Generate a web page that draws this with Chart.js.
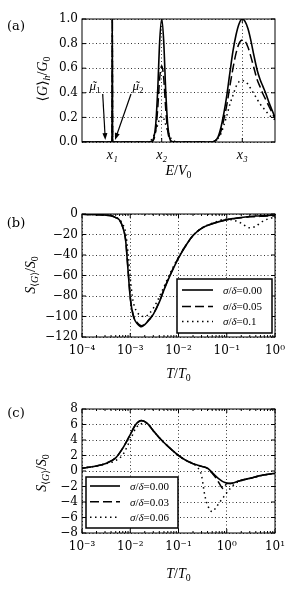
<!DOCTYPE html>
<html>
<head>
<meta charset="utf-8">
<script src="https://cdn.jsdelivr.net/npm/chart.js@4.4.0/dist/chart.umd.min.js"></script>
<style>
  body { margin: 0; background: #fff; }
  canvas { display: block; }
</style>
</head>
<body>
<canvas id="chartA" width="300" height="190"></canvas>
<canvas id="chartB" width="300" height="200"></canvas>
<canvas id="chartC" width="300" height="210"></canvas>
<script>
// ---- (a) averaged conductance vs energy ----
const eA = [0.00, 0.29, 0.300, 0.303, 0.306, 0.32, 0.64,
  0.657, 0.697, 0.717, 0.737, 0.757, 0.777, 0.797, 0.817, 0.837, 0.857, 0.877, 0.897, 0.937,
  1.00, 1.27,
  1.30, 1.33, 1.36, 1.39, 1.42, 1.45, 1.48, 1.51, 1.54, 1.57, 1.603, 1.63, 1.66, 1.69, 1.72,
  1.75, 1.78, 1.81, 1.84, 1.87, 1.90, 1.93];
const gA0 = [0, 0, 0, 1.0, 0, 0, 0,
  0, 0.004, 0.03, 0.14, 0.42, 0.82, 1.0, 0.82, 0.42, 0.14, 0.03, 0.004, 0,
  0, 0,
  0, 0.01, 0.04, 0.12, 0.24, 0.39, 0.57, 0.74, 0.87, 0.96, 1.0, 0.98, 0.92, 0.82, 0.70,
  0.59, 0.51, 0.45, 0.39, 0.32, 0.26, 0.20];
const gA1 = [0, 0, 0, 1.0, 0, 0, 0,
  0, 0.003, 0.02, 0.09, 0.27, 0.52, 0.62, 0.52, 0.27, 0.09, 0.02, 0.003, 0,
  0, 0,
  0, 0.01, 0.03, 0.09, 0.19, 0.31, 0.46, 0.60, 0.72, 0.80, 0.83, 0.82, 0.77, 0.69, 0.60,
  0.51, 0.45, 0.39, 0.34, 0.29, 0.24, 0.19];
const gA2 = [0, 0, 0, 0.9, 0, 0, 0,
  0.004, 0.02, 0.05, 0.09, 0.14, 0.19, 0.21, 0.19, 0.14, 0.09, 0.05, 0.02, 0.004,
  0, 0,
  0, 0.01, 0.03, 0.07, 0.14, 0.22, 0.31, 0.38, 0.45, 0.49, 0.50, 0.49, 0.47, 0.43, 0.39,
  0.35, 0.31, 0.28, 0.25, 0.22, 0.20, 0.18];
const xTicksA = [0.303, 0.797, 1.603];
const xLabelsA = ['x₁', 'x₂', 'x₃'];

// ---- (b) thermopower, first set ----
const tB = [1e-4, 2e-4, 3e-4, 4e-4, 5e-4, 6e-4, 7e-4, 8e-4, 9e-4, 1e-3, 1.1e-3, 1.2e-3,
  1.4e-3, 1.7e-3, 2e-3, 2.5e-3, 3e-3, 4e-3, 5e-3, 7e-3, 1e-2, 1.5e-2, 2e-2, 3e-2, 5e-2,
  0.1, 0.15, 0.2, 0.3, 0.4, 0.5, 0.7, 1.0];
const sB0 = [-0.3, -0.6, -1.0, -1.8, -3.5, -6, -13, -25, -55, -82, -95, -102,
  -107, -110, -108, -103, -98, -86, -74, -58, -43, -29, -21, -14, -9.5,
  -5.5, -4.2, -3.4, -2.5, -2.0, -1.7, -1.4, -1.2];
const sB1 = [-0.3, -0.6, -1.0, -1.8, -3.5, -6, -13, -25, -54, -81, -94, -101,
  -106, -109, -107.5, -102.5, -97.5, -85.5, -73.5, -57.5, -42.5, -29, -21, -14, -9.5,
  -5.6, -4.4, -3.6, -2.8, -2.5, -2.3, -2.0, -1.8];
const sB2 = [-0.3, -0.6, -1.0, -1.8, -3.2, -5.5, -10, -18, -38, -62, -80, -89,
  -96, -99.5, -100, -97, -92, -81, -71, -56, -42, -29, -21, -14, -9,
  -5, -6.5, -9, -13.5, -12, -8.5, -5, -3];
const legendB = ['0.00', '0.05', '0.1'];
const xTicksB = [1e-4, 1e-3, 1e-2, 1e-1, 1];
const xLabelsB = ['10⁻⁴', '10⁻³', '10⁻²', '10⁻¹', '10⁰'];

// ---- (c) thermopower, second set ----
const tC = [1e-3, 2e-3, 3e-3, 5e-3, 7e-3, 1e-2, 1.3e-2, 1.7e-2, 2.2e-2, 3e-2, 4e-2, 6e-2,
  0.1, 0.15, 0.2, 0.25, 0.3, 0.35, 0.4, 0.5, 0.6, 0.7, 0.85, 1.0, 1.2, 1.5, 2, 3, 5, 10];
const sC0 = [0.35, 0.65, 0.95, 1.7, 2.95, 4.7, 6.0, 6.5, 6.2, 5.2, 4.3, 3.2,
  2.0, 1.3, 0.95, 0.75, 0.6, 0.5, 0.35, -0.2, -0.7, -1.05, -1.4, -1.55, -1.6, -1.45,
  -1.2, -0.95, -0.6, -0.3];
const sC1 = [0.35, 0.65, 0.95, 1.7, 2.95, 4.7, 6.0, 6.5, 6.2, 5.2, 4.3, 3.2,
  2.0, 1.3, 0.95, 0.75, 0.6, 0.5, 0.3, -0.3, -0.9, -1.6, -2.3, -1.6, -1.6, -1.45,
  -1.2, -0.95, -0.6, -0.3];
const sC2 = [0.35, 0.65, 0.9, 1.35, 2.1, 4.0, 5.5, 6.1, 6.15, 5.2, 4.3, 3.2,
  2.0, 1.3, 0.95, 0.45, -0.6, -3.1, -4.4, -5.25, -4.7, -4.1, -3.4, -2.8, -2.2, -1.6,
  -1.25, -0.95, -0.6, -0.3];
const legendC = ['0.00', '0.03', '0.06'];
const xTicksC = [1e-3, 1e-2, 1e-1, 1, 10];
const xLabelsC = ['10⁻³', '10⁻²', '10⁻¹', '10⁰', '10¹'];

const DASHES = [[], [9, 4], [1.5, 3.5]];
const tickFont = { family: "'DejaVu Serif', serif", size: 12 };
const MATH_FAMILY = "'Liberation Serif', 'DejaVu Serif', serif";

// runs: [text, style]  style: 'r' roman, 'i' italic, 'ti' italic with tilde, 'sr'/'si' subscript
function runFont(style, size) {
  const sub = style[0] === 's';
  const it = style[style.length - 1] === 'i';
  return (it ? 'italic ' : '') + (sub ? size * 0.7 : size) + 'px ' + MATH_FAMILY;
}

function drawRich(ctx, runs, cx, cy, size, rot, align) {
  ctx.save();
  ctx.translate(cx, cy);
  if (rot) ctx.rotate(rot);
  ctx.fillStyle = '#000';
  ctx.textBaseline = 'alphabetic';
  ctx.textAlign = 'left';
  let w = 0;
  runs.forEach(([t, s]) => { ctx.font = runFont(s, size); w += ctx.measureText(t).width; });
  let x = align === 'left' ? 0 : -w / 2;
  const base = size * 0.35;
  runs.forEach(([t, s]) => {
    ctx.font = runFont(s, size);
    const tw = ctx.measureText(t).width;
    ctx.fillText(t, x, base + (s[0] === 's' ? size * 0.25 : 0));
    if (s === 'ti') {
      // tilde accent over the glyph
      ctx.textAlign = 'center';
      ctx.fillText('˜', x + tw / 2 + 1.5, base);
      ctx.textAlign = 'left';
    }
    x += tw;
  });
  ctx.restore();
}

// frame, inward ticks, titles, legend box and arrows
const decor = {
  id: 'decor',
  afterDraw(chart, args, o) {
    const { ctx, chartArea: a } = chart;
    const xs = chart.scales.x, ys = chart.scales.y;
    ctx.save();
    ctx.strokeStyle = '#000';
    ctx.lineWidth = 1;
    ctx.setLineDash([]);
    ctx.beginPath();
    ys.ticks.forEach(t => {
      const py = ys.getPixelForValue(t.value);
      ctx.moveTo(a.left, py); ctx.lineTo(a.left + 4, py);
      ctx.moveTo(a.right, py); ctx.lineTo(a.right - 4, py);
    });
    xs.ticks.forEach(t => {
      const px = xs.getPixelForValue(t.value);
      ctx.moveTo(px, a.bottom); ctx.lineTo(px, a.bottom - 4);
      ctx.moveTo(px, a.top); ctx.lineTo(px, a.top + 4);
    });
    if (xs.type === 'logarithmic') {
      for (let d = Math.log10(xs.min); d < Math.log10(xs.max); d++) {
        for (let k = 2; k <= 9; k++) {
          const px = xs.getPixelForValue(k * Math.pow(10, d));
          ctx.moveTo(px, a.bottom); ctx.lineTo(px, a.bottom - 2);
          ctx.moveTo(px, a.top); ctx.lineTo(px, a.top + 2);
        }
      }
    }
    ctx.stroke();
    ctx.strokeRect(a.left, a.top, a.right - a.left, a.bottom - a.top);

    // panel label
    ctx.fillStyle = '#000';
    ctx.font = "13px 'DejaVu Serif', serif";
    ctx.textAlign = 'center';
    ctx.textBaseline = 'middle';
    ctx.fillText(o.label, o.labelPos[0], o.labelPos[1]);

    drawRich(ctx, o.xTitle, (a.left + a.right) / 2, o.xTitleY, 14, 0);
    drawRich(ctx, o.yTitle, o.yTitleX, o.yTitleY, 14, -Math.PI / 2);

    if (o.legend) {
      const L = o.legend;
      ctx.fillStyle = '#fff';
      ctx.fillRect(L.x, L.y, L.w, L.h);
      ctx.lineWidth = 1.5;
      ctx.strokeRect(L.x, L.y, L.w, L.h);
      chart.data.datasets.forEach((ds, i) => {
        const ry = L.y + L.rows[i];
        ctx.lineWidth = ds.borderWidth;
        ctx.setLineDash(ds.borderDash);
        ctx.beginPath();
        ctx.moveTo(L.lineX[0], ry); ctx.lineTo(L.lineX[1], ry);
        ctx.stroke();
        ctx.setLineDash([]);
        drawRich(ctx, [['σ', 'i'], ['/', 'r'], ['δ', 'i'], ['=' + L.values[i], 'r']], L.textX, ry, 11, 0, 'left');
      });
    }

    (o.arrows || []).forEach(ar => {
      const x0 = xs.getPixelForValue(ar.from[0]), y0 = ys.getPixelForValue(ar.from[1]);
      const x1 = xs.getPixelForValue(ar.to[0]), y1 = ys.getPixelForValue(ar.to[1]);
      const ang = Math.atan2(y1 - y0, x1 - x0);
      ctx.lineWidth = 1.2;
      ctx.beginPath();
      ctx.moveTo(x0, y0);
      ctx.lineTo(x1 - 5 * Math.cos(ang), y1 - 5 * Math.sin(ang));
      ctx.stroke();
      ctx.fillStyle = '#000';
      ctx.beginPath();
      ctx.moveTo(x1, y1);
      ctx.lineTo(x1 - 7 * Math.cos(ang) + 2.5 * Math.sin(ang), y1 - 7 * Math.sin(ang) - 2.5 * Math.cos(ang));
      ctx.lineTo(x1 - 7 * Math.cos(ang) - 2.5 * Math.sin(ang), y1 - 7 * Math.sin(ang) + 2.5 * Math.cos(ang));
      ctx.closePath();
      ctx.fill();
      drawRich(ctx, ar.text, xs.getPixelForValue(ar.textAt[0]), ys.getPixelForValue(ar.textAt[1]), 13, 0);
    });
    ctx.restore();
  }
};

function series(xv, yv, i, label) {
  return {
    label: label,
    data: xv.map((x, k) => ({ x: x, y: yv[k] })),
    borderColor: '#000',
    borderWidth: i === 0 ? 1.6 : 1.5,
    borderDash: DASHES[i],
    pointRadius: 0,
    fill: false,
    cubicInterpolationMode: 'monotone'
  };
}

function makeChart(id, cfg) {
  return new Chart(document.getElementById(id), {
    type: 'line',
    data: { datasets: cfg.datasets },
    plugins: [decor],
    options: {
      responsive: false,
      animation: false,
      layout: { padding: { top: cfg.top, right: 25, left: 0, bottom: 0 } },
      plugins: { legend: { display: false }, tooltip: { enabled: false }, decor: cfg.decor },
      scales: {
        x: {
          type: cfg.xType, min: cfg.xMin, max: cfg.xMax,
          afterBuildTicks: s => { s.ticks = cfg.xTicks.map(v => ({ value: v })); },
          afterFit: s => { s.height = cfg.xHeight; },
          grid: { color: '#000', lineWidth: 0.8, drawTicks: false },
          border: { display: false, dash: [1, 2.5] },
          ticks: {
            font: cfg.xFont || tickFont, color: '#000', padding: cfg.xPad,
            maxRotation: 0, autoSkip: false,
            callback: (v, i) => cfg.xLabels[i]
          }
        },
        y: {
          min: cfg.yMin, max: cfg.yMax,
          afterFit: s => { s.width = 82; },
          grid: { color: '#000', lineWidth: 0.8, drawTicks: false },
          border: { display: false, dash: [1, 2.5] },
          ticks: {
            stepSize: cfg.yStep, font: tickFont, color: '#000', padding: 4,
            autoSkip: false, callback: cfg.yFormat
          }
        }
      }
    }
  });
}

const minusFmt = v => (v < 0 ? '−' + Math.abs(v) : String(v));

makeChart('chartA', {
  datasets: [series(eA, gA0, 0), series(eA, gA1, 1), series(eA, gA2, 2)],
  top: 19, xHeight: 48, xType: 'linear', xMin: 0, xMax: 1.93,
  xTicks: xTicksA, xLabels: xLabelsA, xPad: 5,
  xFont: { family: MATH_FAMILY, size: 14, style: 'italic' },
  yMin: 0, yMax: 1, yStep: 0.2, yFormat: v => v.toFixed(1),
  decor: {
    label: '(a)', labelPos: [16, 27],
    xTitle: [['E', 'i'], ['/', 'r'], ['V', 'i'], ['0', 'sr']], xTitleY: 170,
    yTitle: [['⟨', 'r'], ['G', 'i'], ['⟩', 'r'], ['h', 'si'], ['/', 'r'], ['G', 'i'], ['0', 'sr']],
    yTitleX: 42, yTitleY: 79,
    arrows: [
      { from: [0.207, 0.39], to: [0.233, 0.016], textAt: [0.13, 0.46], text: [['μ', 'ti'], ['1', 'sr']] },
      { from: [0.49, 0.39], to: [0.33, 0.016], textAt: [0.56, 0.46], text: [['μ', 'ti'], ['2', 'sr']] }
    ]
  }
});

makeChart('chartB', {
  datasets: [series(tB, sB0, 0), series(tB, sB1, 1), series(tB, sB2, 2)],
  top: 24, xHeight: 53, xType: 'logarithmic', xMin: 1e-4, xMax: 1,
  xTicks: xTicksB, xLabels: xLabelsB, xPad: 7,
  yMin: -120, yMax: 0, yStep: 20, yFormat: minusFmt,
  decor: {
    label: '(b)', labelPos: [16, 34],
    xTitle: [['T', 'i'], ['/', 'r'], ['T', 'i'], ['0', 'sr']], xTitleY: 183,
    yTitle: [['S', 'i'], ['⟨', 'sr'], ['G', 'si'], ['⟩', 'sr'], ['/', 'r'], ['S', 'i'], ['0', 'sr']],
    yTitleX: 30, yTitleY: 85,
    legend: { x: 177, y: 89, w: 95, h: 54, rows: [11, 27.5, 42.5], lineX: [182, 213], textX: 223, values: legendB }
  }
});

makeChart('chartC', {
  datasets: [series(tC, sC0, 0), series(tC, sC1, 1), series(tC, sC2, 2)],
  top: 19, xHeight: 67, xType: 'logarithmic', xMin: 1e-3, xMax: 10,
  xTicks: xTicksC, xLabels: xLabelsC, xPad: 7,
  yMin: -8, yMax: 8, yStep: 2, yFormat: minusFmt,
  decor: {
    label: '(c)', labelPos: [16, 23.5],
    xTitle: [['T', 'i'], ['/', 'r'], ['T', 'i'], ['0', 'sr']], xTitleY: 183,
    yTitle: [['S', 'i'], ['⟨', 'sr'], ['G', 'si'], ['⟩', 'sr'], ['/', 'r'], ['S', 'i'], ['0', 'sr']],
    yTitleX: 41, yTitleY: 83,
    legend: { x: 86, y: 87, w: 92, h: 51, rows: [9, 24.7, 40.3], lineX: [90, 120], textX: 130, values: legendC }
  }
});
</script>
</body>
</html>
